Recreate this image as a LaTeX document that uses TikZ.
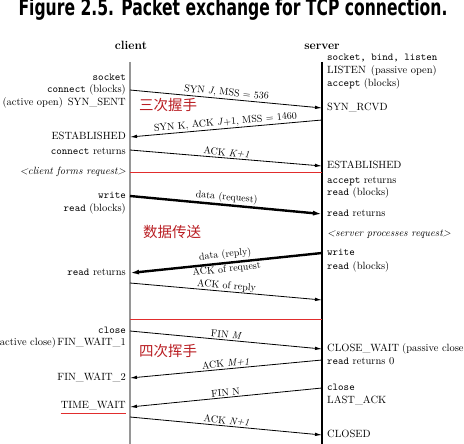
\documentclass[tikz,border=0pt]{standalone}
\usepackage{fontspec}
\newfontfamily\cjk{Noto Sans CJK SC}
\newfontfamily\titlefont{DejaVu Sans}
\usetikzlibrary{arrows.meta}
\definecolor{phasered}{RGB}{185,30,35}
\definecolor{linered}{RGB}{225,45,45}
\definecolor{clientgray}{RGB}{150,150,150}

\begin{document}
\begin{tikzpicture}
[
    x=1pt, y=-1pt,
    font=\fontsize{10.5}{12}\selectfont,
    cl/.style={anchor=mid east, inner sep=0pt},
    sv/.style={anchor=mid west, inner sep=0pt},
    lbl/.style={midway, sloped, inner sep=1.2pt, font=\fontsize{10}{12}\selectfont},
    msg/.style={-{Latex[length=7pt,width=3.5pt]}, line width=0.8pt},
    bigmsg/.style={-{Latex[length=9pt,width=5pt]}, line width=2.4pt},
    phase/.style={anchor=west, inner sep=0pt, text=phasered, font=\cjk\fontsize{14.5}{15}\selectfont},
    sepline/.style={linered, line width=0.6pt},
    head/.style={font=\bfseries\fontsize{12}{14}\selectfont, anchor=base}
]
\useasboundingbox (0,0) rectangle (464,444);

% Title and headings
\node[font=\titlefont\bfseries\fontsize{15.6}{16}\selectfont, anchor=base, inner sep=0pt] (title) at (233,16) {\scalebox{1}[1.45]{Figure 2.5. Packet exchange for TCP connection.}};
\node[head] (client) at (131,50) {client};
\node[head] (server) at (322,50) {server};

% Time lines
\coordinate (ctop) at (130,62);
\coordinate (cbot) at (130,444);
\coordinate (stop) at (322,62);
\coordinate (sbot) at (322,444);
\draw[clientgray, line width=1.5pt] (ctop) -- (cbot);
\draw[line width=1.2pt] (stop) -- (sbot);

% Client side states and calls
\node[cl] (csock) at (126,78) {\texttt{socket}};
\node[cl] (cconn) at (126,90) {\texttt{connect} (blocks)};
\node[cl] (csent) at (126,103) {(active open)\hspace{5pt}SYN\_SENT};
\node[cl] (cest) at (126,137) {ESTABLISHED};
\node[cl] (cret) at (126,152) {\texttt{connect} returns};
\node[cl] (cform) at (126,172) {\textit{<client forms request>}};
\node[cl] (cwrite) at (126,196) {\texttt{write}};
\node[cl] (cread) at (126,209) {\texttt{read} (blocks)};
\node[cl] (cretd) at (126,273) {\texttt{read} returns};
\node[cl] (cclose) at (126,331) {\texttt{close}};
\node[cl] (cfw1) at (126,343) {(active close)\hspace{1.5pt}FIN\_WAIT\_1};
\node[cl] (cfw2) at (126,378) {FIN\_WAIT\_2};
\node[cl] (ctw) at (126,406) {TIME\_WAIT};
\draw[sepline, line width=1.2pt] ([yshift=-5pt]ctw.base west) -- ([yshift=-5pt]ctw.base east);

% Server side states and calls
\node[sv] (ssock) at (327,58) {\texttt{socket, bind, listen}};
\node[sv] (slisten) at (327,71) {LISTEN\hspace{5pt}(passive open)};
\node[sv] (sacc) at (327,84) {\texttt{accept} (blocks)};
\node[sv] (srcvd) at (327,108) {SYN\_RCVD};
\node[sv] (sest) at (327,166) {ESTABLISHED};
\node[sv] (saret) at (327,181) {\texttt{accept} returns};
\node[sv] (sread) at (327,193) {\texttt{read} (blocks)};
\node[sv] (sretd) at (327,214) {\texttt{read} returns};
\node[sv] (sproc) at (327,234) {\textit{<server processes request>}};
\node[sv] (swrite) at (327,253) {\texttt{write}};
\node[sv] (sread2) at (327,267) {\texttt{read} (blocks)};
\node[sv] (scw) at (327,349) {CLOSE\_WAIT\hspace{3pt}(passive close)};
\node[sv] (sret0) at (327,362) {\texttt{read} returns 0};
\node[sv] (sclose) at (327,388) {\texttt{close}};
\node[sv] (slack) at (327,401) {LAST\_ACK};
\node[sv] (sclosed) at (327,435) {CLOSED};

% Phase labels
\node[phase] (hand3) at (139,105) {三次握手};
\node[phase] (xfer) at (143,232) {数据传送};
\node[phase] (hand4) at (139,351) {四次挥手};

% Points where the segments leave and reach the time lines
\coordinate (c1) at (130,90);   \coordinate (s1) at (322,108);
\coordinate (s2) at (322,120);  \coordinate (c2) at (130,137);
\coordinate (c3) at (130,150);  \coordinate (s3) at (322,166);
\coordinate (c4) at (130,196);  \coordinate (s4) at (322,214);
\coordinate (s5) at (322,253);  \coordinate (c5) at (130,273);
\coordinate (c6) at (130,283);  \coordinate (s6) at (322,300);
\coordinate (c7) at (130,331);  \coordinate (s7) at (322,349);
\coordinate (s8) at (322,360);  \coordinate (c8) at (130,378);
\coordinate (s9) at (322,388);  \coordinate (c9) at (130,407);
\coordinate (c10) at (130,417); \coordinate (s10) at (322,435);
\coordinate (r1a) at (130,172); \coordinate (r1b) at (322,172);
\coordinate (r2a) at (130,319); \coordinate (r2b) at (322,319);

% Connection set up
\draw[msg] (c1) -- node[lbl, above] {SYN \textit{J}, MSS = 536} (s1);
\draw[msg] (s2) -- node[lbl, above] {SYN K, ACK \textit{J}+1, MSS = 1460} (c2);
\draw[msg] (c3) -- node[lbl, above] {ACK \textit{K+1}} (s3);
\draw[sepline] (r1a) -- (r1b);

% Data transfer
\draw[bigmsg] (c4) -- node[lbl, above] {data (request)} (s4);
\draw[bigmsg] (s5) -- node[lbl, above, inner sep=2pt] {data (reply)} node[lbl, below, inner sep=0.8pt] {ACK of request} (c5);
\draw[msg] (c6) -- node[lbl, above, inner sep=0.3pt] {ACK of reply} (s6);
\draw[sepline] (r2a) -- (r2b);

% Connection release
\draw[msg] (c7) -- node[lbl, above] {FIN \textit{M}} (s7);
\draw[msg] (s8) -- node[lbl, above] {ACK \textit{M+1}} (c8);
\draw[msg] (s9) -- node[lbl, above] {FIN N} (c9);
\draw[msg] (c10) -- node[lbl, above] {ACK \textit{N+1}} (s10);

\end{tikzpicture}
\end{document}
